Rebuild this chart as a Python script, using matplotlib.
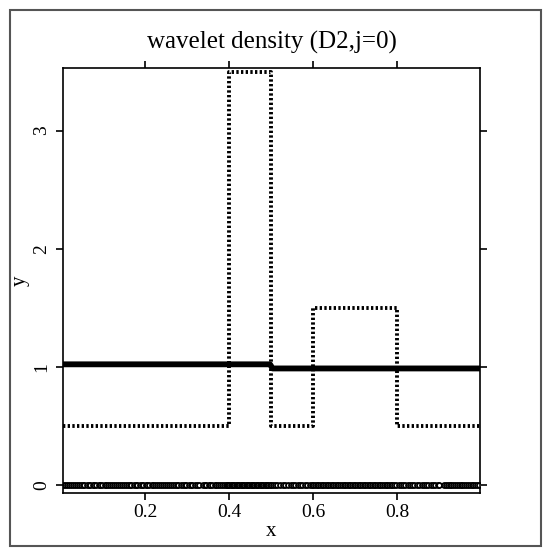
import matplotlib
matplotlib.use("Agg")
import matplotlib.pyplot as plt
from matplotlib.patches import Rectangle

# true density (piecewise constant)
true_x = [0.004, 0.4, 0.4, 0.5, 0.5, 0.6, 0.6, 0.8, 0.8, 0.997]
true_y = [0.5, 0.5, 3.5, 3.5, 0.5, 0.5, 1.5, 1.5, 0.5, 0.5]

# wavelet estimate (D2, j=0)
est_x = [0.004, 0.497, 0.503, 0.997]
est_y = [1.02, 1.02, 0.985, 0.985]

# observed sample (rug at y=0)
sample_sparse_left = [
    0.005, 0.009, 0.013, 0.019, 0.023, 0.027, 0.033, 0.037, 0.041, 0.047,
    0.051, 0.055, 0.061, 0.065, 0.069, 0.075, 0.079, 0.083, 0.089, 0.093,
    0.097, 0.103, 0.107, 0.111, 0.117, 0.121, 0.125, 0.131, 0.135, 0.139,
    0.145, 0.149, 0.153, 0.159, 0.163, 0.167, 0.173, 0.177, 0.181, 0.187,
    0.191, 0.195, 0.201, 0.205, 0.209, 0.215, 0.219, 0.223, 0.229, 0.233,
    0.237, 0.243, 0.247, 0.251, 0.257, 0.261, 0.265, 0.271, 0.275, 0.279,
    0.284, 0.290, 0.294, 0.298, 0.304, 0.308, 0.312, 0.318, 0.322, 0.327,
    0.337, 0.341, 0.345, 0.351, 0.355, 0.359, 0.365, 0.369, 0.373, 0.379,
    0.383, 0.387,
]
sample_peak = [
    0.391, 0.394, 0.397, 0.400, 0.403, 0.406, 0.409, 0.412, 0.415, 0.418,
    0.421, 0.424, 0.427, 0.430, 0.433, 0.436, 0.439, 0.442, 0.445, 0.448,
    0.451, 0.454, 0.457, 0.460, 0.463, 0.466, 0.469, 0.472, 0.475, 0.478,
    0.481, 0.484, 0.487, 0.490, 0.493, 0.496, 0.499,
]
sample_middle = [
    0.504, 0.509, 0.514, 0.521, 0.527, 0.533, 0.539, 0.546, 0.552, 0.557,
    0.563, 0.569, 0.574, 0.580, 0.586, 0.591, 0.596,
]
sample_plateau = [
    0.600, 0.604, 0.608, 0.612, 0.616, 0.620, 0.624, 0.628, 0.632, 0.636,
    0.640, 0.644, 0.648, 0.652, 0.656, 0.660, 0.664, 0.668, 0.672, 0.676,
    0.680, 0.684, 0.688, 0.692, 0.696, 0.700, 0.704, 0.708, 0.712, 0.716,
    0.720, 0.724, 0.728, 0.732, 0.736, 0.740, 0.744, 0.748, 0.752, 0.756,
    0.760, 0.764, 0.768, 0.772, 0.776, 0.780, 0.784, 0.788, 0.792,
]
sample_sparse_right = [
    0.797, 0.803, 0.808, 0.814, 0.819, 0.825, 0.830, 0.836, 0.841, 0.847,
    0.852, 0.858, 0.863, 0.869, 0.874, 0.880, 0.885, 0.891, 0.896, 0.900,
    0.912, 0.916, 0.920, 0.925, 0.929, 0.933, 0.938, 0.942, 0.946, 0.951,
    0.955, 0.959, 0.964, 0.968, 0.972, 0.977, 0.981, 0.985, 0.990, 0.994,
]
sample_x = (sample_sparse_left + sample_peak + sample_middle
            + sample_plateau + sample_sparse_right)

xticks = [0.2, 0.4, 0.6, 0.8]
yticks = [0, 1, 2, 3]
title = "wavelet density (D2,j=0)"

plt.rcParams['font.family'] = ['Liberation Serif', 'DejaVu Serif']

fig = plt.figure(figsize=(5.43, 5.48), dpi=100)
W, H = 543, 548
ax = fig.add_axes([63 / W, 1 - 493 / H, (480 - 63) / W, (493 - 68) / H])

ax.plot(true_x, true_y, linestyle=(0, (0.6, 0.6)), color='black', linewidth=2.8)
ax.plot(est_x, est_y, linestyle='-', color='black', linewidth=4.2, solid_capstyle='butt')
ax.plot(sample_x, [0] * len(sample_x), linestyle='none', marker='o', markersize=3.6,
        markerfacecolor='white', markeredgecolor='black', markeredgewidth=1.3)

ax.set_xlim(0.004, 0.997)
ax.set_ylim(-0.07, 3.53)
ax.set_xticks(xticks)
ax.set_xticklabels([str(t) for t in xticks])
ax.set_yticks(yticks)
ax.set_yticklabels([str(t) for t in yticks], rotation=90, va='center')
ax.tick_params(direction='out', length=5, width=1.2, labelsize=14,
               top=True, right=True, labeltop=False, labelright=False)
ax.tick_params(axis='x', pad=3)
ax.tick_params(axis='y', pad=4)
for s in ax.spines.values():
    s.set_linewidth(1.2)
ax.set_xlabel('x', fontsize=15, labelpad=1)
ax.set_ylabel('y', fontsize=15, labelpad=3)
ax.set_title(title, fontsize=18, pad=14)

fig.patches.append(Rectangle((10 / W, 2 / H), (541 - 10) / W, (542 - 6) / H,
                             transform=fig.transFigure, fill=False,
                             edgecolor='#555555', linewidth=1.5))

fig.savefig('out.png', dpi=100)
